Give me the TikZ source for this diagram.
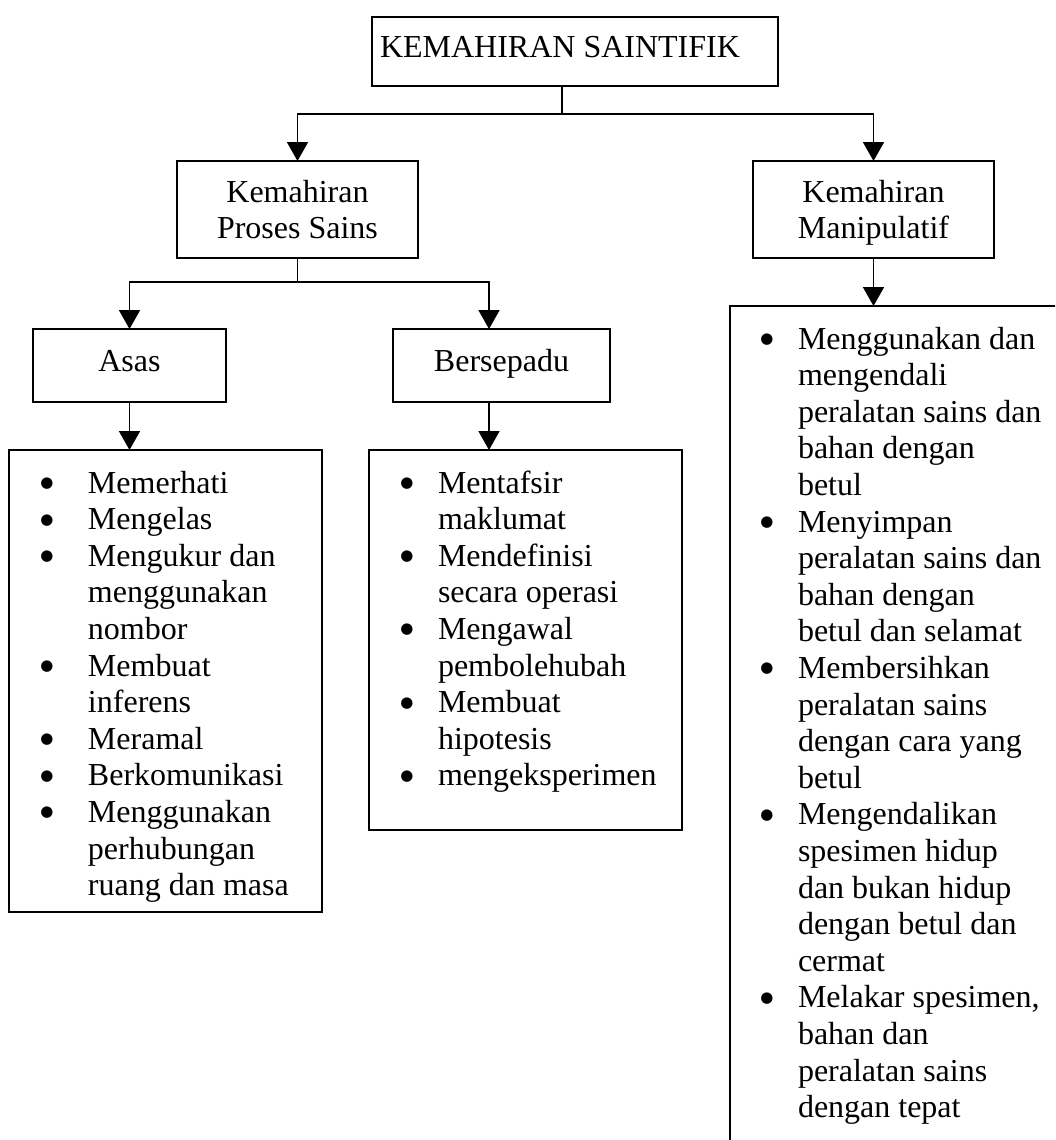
\documentclass[tikz,border=0pt]{standalone}
\usepackage{fontspec}
\setmainfont{Liberation Serif}
\newfontfamily\dejavu{DejaVu Sans}
\usetikzlibrary{arrows.meta}
\newlength{\bdx}
\newcommand{\bul}{\makebox[11pt]{\raisebox{5.5pt}{\fontsize{15}{15}\dejavu ●}}}
\newcommand{\itm}[1]{\par\noindent\hangindent=\bdx\hangafter=1\makebox[\bdx][l]{\bul}#1\par}
\newcommand{\lstbox}[2]{\parbox[t]{500pt}{\setlength{\bdx}{#1}\lineskiplimit=-100pt\parskip=0pt\relax #2}}
\begin{document}
\begin{tikzpicture}[x=1pt,y=-1pt,
  box/.style={draw, line width=1.8pt, inner sep=0pt, outer sep=0pt, anchor=north west},
  txt/.style={inner sep=0pt, outer sep=0pt, anchor=base, font=\fontsize{32}{36.6}\selectfont},
  lst/.style={inner sep=0pt, outer sep=0pt, anchor=base west, font=\fontsize{32}{36.6}\selectfont},
  ln/.style={line width=1.8pt},
  arr/.style={line width=1.8pt, -{Triangle[length=19pt,width=21pt]}}]
\useasboundingbox (0,0) rectangle (1055,1140);
\fill[white] (0,0) rectangle (1055,1140);
\clip (0,0) rectangle (1055,1140);

% boxes
\node[box, minimum width=406pt, minimum height=69pt] (top) at (372,17) {};
\node[txt] (toptxt) at (560,58) {KEMAHIRAN SAINTIFIK};
\node[box, minimum width=241pt, minimum height=97pt] (kps) at (177,161) {};
\node[txt] (kpstxt) at (297.5,202) {\parbox[t]{300pt}{\centering Kemahiran\\Proses Sains}};
\node[box, minimum width=241pt, minimum height=97pt] (man) at (753,161) {};
\node[txt] (mantxt) at (873.5,202) {\parbox[t]{300pt}{\centering Kemahiran\\Manipulatif}};
\node[box, minimum width=193pt, minimum height=73pt] (asas) at (33,329) {};
\node[txt] (asastxt) at (129.5,371) {Asas};
\node[box, minimum width=217pt, minimum height=73pt] (bers) at (393,329) {};
\node[txt] (berstxt) at (501.5,371) {Bersepadu};
\node[box, minimum width=313pt, minimum height=462pt] (asaslist) at (9,450) {};
\node[box, minimum width=313pt, minimum height=380pt] (berslist) at (369,450) {};
\node[box, minimum width=400pt, minimum height=900pt] (manlist) at (730,306) {};

% lists
\node[lst] (asasitems) at (41.5,493) {\lstbox{46.5pt}{%
\itm{Memerhati}
\itm{Mengelas}
\itm{Mengukur dan\\menggunakan\\nombor}
\itm{Membuat\\inferens}
\itm{Meramal}
\itm{Berkomunikasi}
\itm{Menggunakan\\perhubungan\\ruang dan masa}}};
\node[lst] (bersitems) at (401.5,493) {\lstbox{36.5pt}{%
\itm{Mentafsir\\maklumat}
\itm{Mendefinisi\\secara operasi}
\itm{Mengawal\\pembolehubah}
\itm{Membuat\\hipotesis}
\itm{mengeksperimen}}};
\node[lst] (manitems) at (761.5,349) {\lstbox{36.5pt}{%
\itm{Menggunakan dan\\mengendali\\peralatan sains dan\\bahan dengan\\betul}
\itm{Menyimpan\\peralatan sains dan\\bahan dengan\\betul dan selamat}
\itm{Membersihkan\\peralatan sains\\dengan cara yang\\betul}
\itm{Mengendalikan\\spesimen hidup\\dan bukan hidup\\dengan betul dan\\cermat}
\itm{Melakar spesimen,\\bahan dan\\peralatan sains\\dengan tepat}}};

% connectors
\coordinate (j1) at (562,114);
\draw[ln] (top.south -| j1) -- (j1);
\draw[arr] (j1) -| (kps.north);
\draw[arr] (j1) -| (man.north);
\coordinate (j2) at (297.5,282);
\coordinate (bx) at (489,282);
\draw[ln] (kps.south) -- (j2);
\draw[arr] (j2) -| (asas.north);
\draw[arr] (j2) -| (bers.north -| bx);
\draw[arr] (asas.south) -- (asas.south |- asaslist.north);
\draw[arr] (bers.south -| bx) -- (bx |- berslist.north);
\draw[arr] (man.south) -- (man.south |- manlist.north);
\end{tikzpicture}
\end{document}
